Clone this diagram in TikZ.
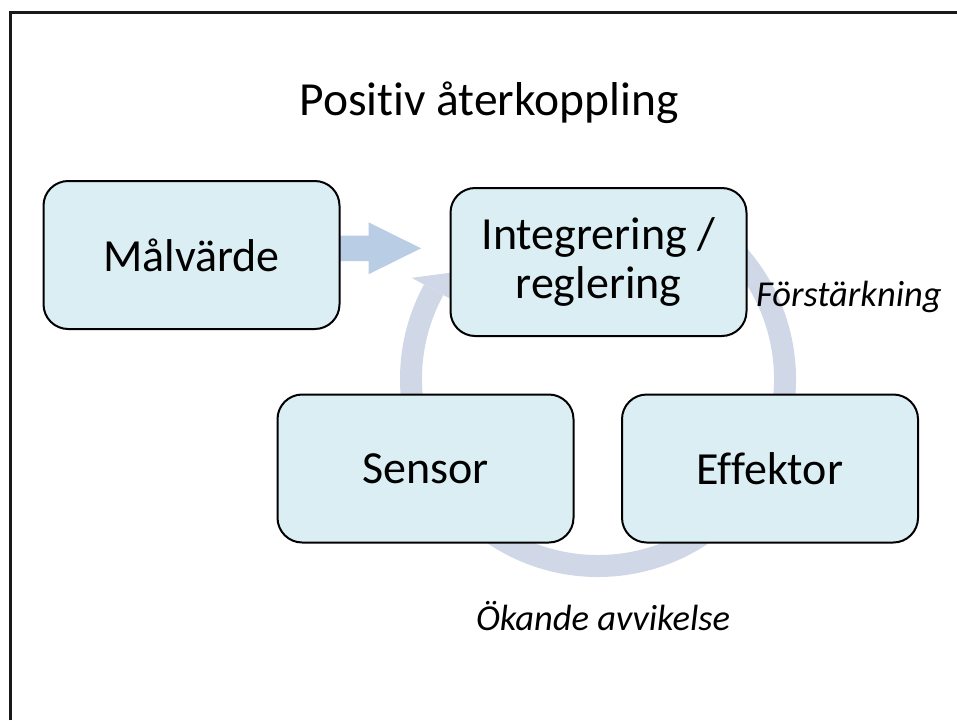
\documentclass[tikz,border=0pt]{standalone}
\usepackage{fontspec}
\setmainfont{Carlito}[Ligatures=NoCommon]
\usetikzlibrary{calc}

\definecolor{boxfill}{HTML}{DAEEF3}
\definecolor{inarrow}{HTML}{B9CDE5}
\definecolor{cyclecol}{HTML}{D0D8E8}

\tikzset{
  stepbox/.style={draw=black, line width=2pt, fill=boxfill, rounded corners=24.7pt,
    minimum width=296pt, minimum height=148pt, inner sep=0pt, align=center,
    font=\fontsize{46}{49.5}\selectfont},
  sidelabel/.style={inner sep=0pt, font=\fontsize{36.5}{40}\selectfont\itshape},
  frameline/.style={line width=3pt, draw=black!90}
}

\begin{document}
\begin{tikzpicture}[x=1pt,y=1pt]
  \useasboundingbox (0,0) rectangle (957,-720);

  % outer frame (only the left and top edges fall inside the page)
  \draw[frameline] (10.5,-720) -- (10.5,-12) -- (957,-12);

  % centre of the feedback cycle
  \coordinate (cyc) at (598,-379);

  % thick circular band of the cycle, running clockwise
  \fill[cyclecol, shift={(cyc)}]
    (55:198) arc[start angle=55, end angle=-208.5, radius=198]
    -- (151.5:176) arc[start angle=-208.5, end angle=55, radius=176] -- cycle;
  % arrowhead of the cycle, pointing into the regulator
  \fill[cyclecol, shift={(cyc)}]
    (151.5:212) -- (-135,108) -- (151.5:162) -- cycle;

  % box positions (drawn further down, over the arrows)
  \coordinate (malc)   at (191.5,-255);
  \coordinate (integc) at (598.5,-262);

  % block arrow from the set value to the regulator
  \coordinate (mal-e) at ($(malc)+(148,0)$);
  \coordinate (tip)   at ($(integc)+(-177.5,13.7)$);
  \fill[inarrow]
    ($(mal-e)+(0,19.3)$) -- ($(mal-e)+(29,19.3)$) -- ($(mal-e)+(29,32.7)$)
    -- (tip)
    -- ($(mal-e)+(29,-19.3)$) -- ($(mal-e)+(29,-6)$) -- ($(mal-e)+(0,-6)$) -- cycle;

  % boxes
  \node[stepbox] (mal)   at (malc) {Målvärde};
  \node[stepbox] (integ) at (integc) {Integrering /\\reglering};
  \node[stepbox] (sens)  at (425.5,-468.5) {Sensor};
  \node[stepbox] (eff)   at (770,-468.5) {Effektor};

  % labels
  \node[font=\fontsize{47.5}{50}\selectfont, anchor=base] (title) at (489,-115) {Positiv återkoppling};
  \node[sidelabel, anchor=base west] (gain) at (756,-306) {Förstärkning};
  \node[sidelabel, anchor=base] (dev) at (603,-630) {Ökande avvikelse};
\end{tikzpicture}
\end{document}
